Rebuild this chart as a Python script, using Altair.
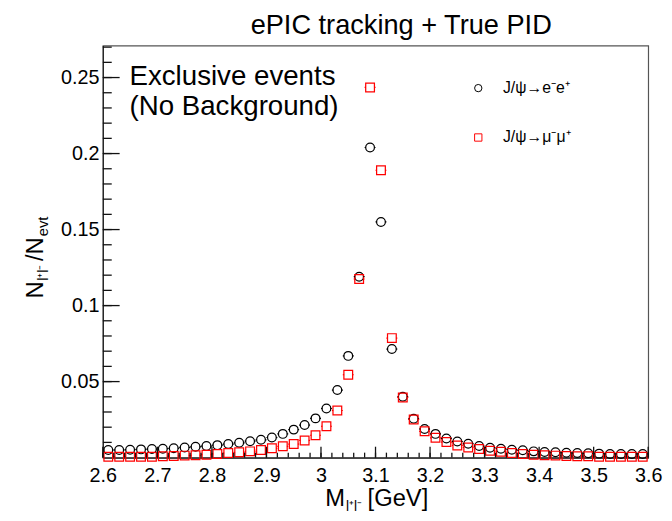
import altair as alt
import pandas as pd

# ---------------- data ----------------
mass_gev = [2.61, 2.63, 2.65, 2.67, 2.69, 2.71, 2.73, 2.75, 2.77, 2.79,
            2.81, 2.83, 2.85, 2.87, 2.89, 2.91, 2.93, 2.95, 2.97, 2.99,
            3.01, 3.03, 3.05, 3.07, 3.09, 3.11, 3.13, 3.15, 3.17, 3.19,
            3.21, 3.23, 3.25, 3.27, 3.29, 3.31, 3.33, 3.35, 3.37, 3.39,
            3.41, 3.43, 3.45, 3.47, 3.49, 3.51, 3.53, 3.55, 3.57, 3.59]

ee_fraction = [0.0050, 0.0050, 0.0052, 0.0054, 0.0056, 0.0058, 0.0061, 0.0067, 0.0071, 0.0076,
               0.0082, 0.0089, 0.0097, 0.0108, 0.0117, 0.0132, 0.0156, 0.0184, 0.0214, 0.0258,
               0.0323, 0.0444, 0.0669, 0.1190, 0.2040, 0.1550, 0.0714, 0.0400, 0.0255, 0.0188,
               0.0156, 0.0126, 0.0106, 0.0091, 0.0076, 0.0065, 0.0058, 0.0052, 0.0048, 0.0041,
               0.0037, 0.0035, 0.0032, 0.0030, 0.0028, 0.0026, 0.0024, 0.0024, 0.0024, 0.0024]

mumu_fraction = [0.0006, 0.0006, 0.0006, 0.0006, 0.0006, 0.0009, 0.0011, 0.0013, 0.0015, 0.0019,
                 0.0024, 0.0030, 0.0035, 0.0041, 0.0050, 0.0061, 0.0074, 0.0089, 0.0113, 0.0147,
                 0.0206, 0.0310, 0.0545, 0.1175, 0.2435, 0.1890, 0.0786, 0.0396, 0.0251, 0.0173,
                 0.0130, 0.0102, 0.0080, 0.0067, 0.0056, 0.0045, 0.0039, 0.0030, 0.0024, 0.0019,
                 0.0015, 0.0013, 0.0011, 0.0009, 0.0009, 0.0006, 0.0006, 0.0006, 0.0006, 0.0006]

series_labels = ["J/ψ→e⁻e⁺", "J/ψ→μ⁻μ⁺"]
series_colors = ["#000000", "#ff0000"]
series_shapes = ["circle", "square"]

bin_half_width = 0.01

x_major = [2.6, 2.7, 2.8, 2.9, 3.0, 3.1, 3.2, 3.3, 3.4, 3.5, 3.6]
x_minor = [round(2.6 + 0.02 * i, 2) for i in range(51)]
y_major = [0.05, 0.1, 0.15, 0.2, 0.25]
y_minor = [round(0.01 * i, 2) for i in range(1, 28)]

x_domain = [2.6, 3.6]
y_domain = [0.0, 0.271]

FONT = "Liberation Sans"
W, H = 552, 417
TICK = "#111111"

df = pd.DataFrame({
    "mass": mass_gev + mass_gev,
    "frac": ee_fraction + mumu_fraction,
    "series": [series_labels[0]] * len(mass_gev) + [series_labels[1]] * len(mass_gev),
})

xs = alt.Scale(domain=x_domain, nice=False, zero=False)
ys = alt.Scale(domain=y_domain, nice=False, zero=False)
cs = alt.Scale(domain=series_labels, range=series_colors)
ss = alt.Scale(domain=series_labels, range=series_shapes)

legend = alt.Legend(title=None, orient="none", legendX=372, legendY=35,
                    symbolSize=55, symbolStrokeWidth=1, labelFont=FONT,
                    labelFontSize=16, labelOffset=17, rowPadding=34,
                    labelColor="black", padding=0)

label_x_axis = alt.Axis(orient="bottom", values=x_major, format="~g", ticks=False, tickSize=0,
                        labelFont=FONT, labelFontSize=20, labelColor="black", labelPadding=8,
                        labelFlush=False, labelOverlap=False, labelBound=False,
                        domainColor="#222222", domainWidth=1.2, grid=False, title=None)
label_y_axis = alt.Axis(orient="left", values=y_major, format="~g", ticks=False, tickSize=0,
                        labelFont=FONT, labelFontSize=20, labelColor="black", labelPadding=4,
                        labelOverlap=False, labelBound=False, labelFlush=False,
                        domainColor="#222222", domainWidth=1.2, grid=False, title=None)

base = alt.Chart(df)


def stubs(series_idx, side):
    """Short horizontal error-bar stubs on one side of the markers of one series."""
    if side < 0:
        lo = f"datum.mass - {bin_half_width}"
        hi = f"datum.mass - {bin_half_width * 0.75}"
    else:
        lo = f"datum.mass + {bin_half_width * 0.75}"
        hi = f"datum.mass + {bin_half_width}"
    return base.transform_filter(
        alt.datum.series == series_labels[series_idx]
    ).transform_calculate(lo=lo, hi=hi).mark_rule(
        strokeWidth=1.2, color=series_colors[series_idx]
    ).encode(
        x=alt.X("lo:Q", scale=xs, axis=None),
        x2="hi:Q",
        y=alt.Y("frac:Q", scale=ys, axis=None),
    )


stub_layers = [stubs(0, -1), stubs(0, +1), stubs(1, -1), stubs(1, +1)]


# inward-pointing ROOT-style tick marks, drawn through the axis scales
def x_ticks(values, length):
    return alt.Chart(pd.DataFrame({"t": values})).mark_rule(
        color=TICK, strokeWidth=1.3
    ).encode(
        x=alt.X("t:Q", scale=xs, axis=None),
        y=alt.value(H), y2=alt.value(H - length),
    )


def y_ticks(values, length):
    return alt.Chart(pd.DataFrame({"t": values})).mark_rule(
        color=TICK, strokeWidth=1.3
    ).encode(
        y=alt.Y("t:Q", scale=ys, axis=None),
        x=alt.value(0), x2=alt.value(length),
    )


tick_layers = [x_ticks(x_minor, 5), x_ticks(x_major, 11),
               y_ticks(y_minor, 9), y_ticks(y_major, 17)]

points = base.mark_point(filled=False, size=78, strokeWidth=1.25, opacity=1).encode(
    x=alt.X("mass:Q", scale=xs, axis=label_x_axis),
    y=alt.Y("frac:Q", scale=ys, axis=label_y_axis),
    color=alt.Color("series:N", scale=cs, legend=legend),
    shape=alt.Shape("series:N", scale=ss, legend=legend),
)

one = pd.DataFrame({"k": [0]})


def label(text, x, y, size, angle=0, align="left"):
    return alt.Chart(one).mark_text(
        text=text, font=FONT, fontSize=size, color="black", align=align,
        baseline="alphabetic", angle=angle,
    ).encode(x=alt.value(x), y=alt.value(y))


texts = [
    label("ePIC tracking + True PID", 302, -12, 27.5, align="center"),
    label("Exclusive events", 27, 40, 28),
    label("(No Background)", 27, 70, 28),
    # x-axis title  M_{l+l-} [GeV]
    label("M", 225, 466, 24),
    label("l⁺l⁻", 246, 471, 14),
    label("[GeV]", 268, 466, 24),
    # y-axis title  N_{l+l-}/N_evt (rotated)
    label("N", -61, 256, 24, angle=270),
    label("l⁺l⁻", -56, 238, 14, angle=270),
    label("/N", -61, 218, 24, angle=270),
    label("evt", -56, 193, 15, angle=270),
]

chart = alt.layer(
    points, *stub_layers, *tick_layers, *texts
).resolve_axis(
    x="independent", y="independent"
).properties(
    width=W, height=H,
    autosize=alt.AutoSizeParams(type="none"),
    padding={"left": 96, "top": 35, "right": 16, "bottom": 53},
    background="white",
).configure_view(
    stroke="#555555", strokeWidth=1.2
)

chart.save("out.html", embed_options={"renderer": "svg", "actions": False})
